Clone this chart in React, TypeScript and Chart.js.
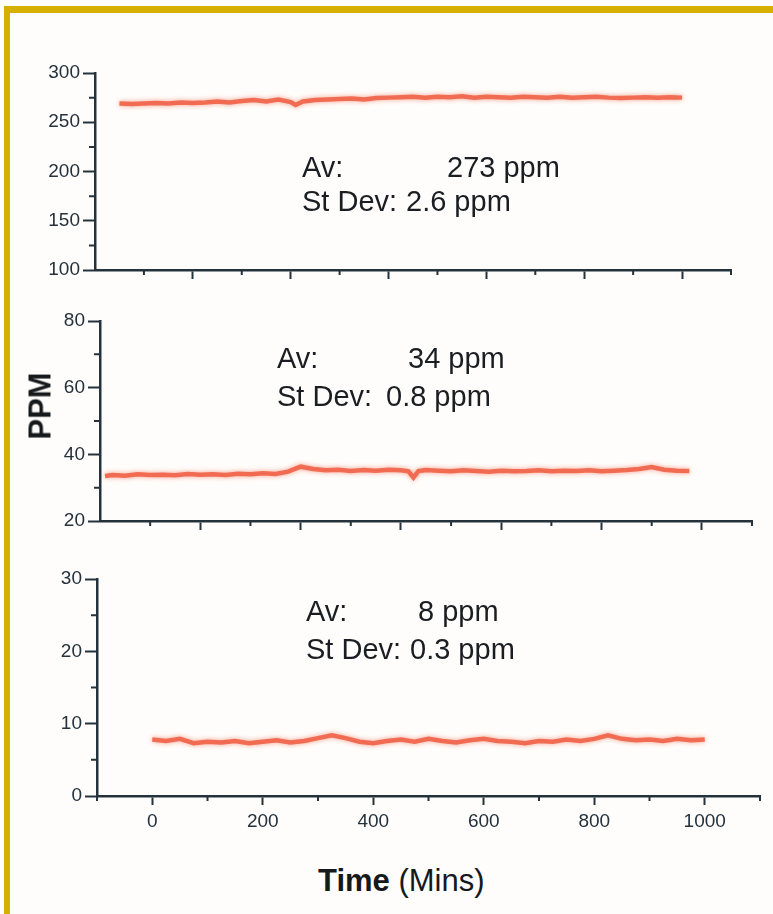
import React, { useEffect, useRef } from "react";
import { Chart, registerables } from "chart.js";

Chart.register(...registerables);

// ---------- data ----------
const TOP_TIME = [-150, -125, -100, -75, -50, -25, 0, 25, 50, 75, 100, 125, 150, 175, 200, 210, 225, 250, 275, 300, 325, 350, 375, 400, 425, 450, 475, 500, 525, 550, 575, 600, 625, 650, 675, 700, 725, 750, 775, 800, 825, 850, 875, 900, 925, 950, 975, 1000];
const TOP_PPM = [269, 268.5, 269, 269.5, 269, 270, 269.5, 270, 271, 270, 271.5, 272.5, 271, 273, 270.5, 267.5, 271, 272.5, 273, 273.5, 274, 273, 274.5, 275, 275.5, 276, 275, 276, 275.5, 276.5, 275, 276, 275.5, 275, 276, 275.5, 275, 276, 275, 275.5, 276, 275, 274.5, 275, 275.5, 275, 275.5, 275];

const MID_TIME = [-190, -175, -150, -125, -100, -75, -50, -25, 0, 25, 50, 75, 100, 125, 150, 175, 200, 225, 250, 275, 300, 325, 350, 375, 400, 415, 425, 435, 450, 475, 500, 525, 550, 575, 600, 625, 650, 675, 700, 725, 750, 775, 800, 825, 850, 875, 900, 925, 950, 975];
const MID_PPM = [33.5, 33.8, 33.6, 34.0, 33.8, 33.9, 33.7, 34.1, 33.9, 34.0, 33.8, 34.2, 34.0, 34.3, 34.1, 34.8, 36.3, 35.6, 35.2, 35.4, 35.0, 35.3, 35.1, 35.4, 35.2, 34.9, 33.0, 35.0, 35.3, 35.1, 34.9, 35.2, 35.0, 34.8, 35.1, 34.9, 35.0, 35.2, 34.9, 35.1, 35.0, 35.2, 34.9, 35.1, 35.3, 35.6, 36.2, 35.4, 35.1, 35.0];

const BOT_TIME = [0, 25, 50, 75, 100, 125, 150, 175, 200, 225, 250, 275, 300, 325, 350, 375, 400, 425, 450, 475, 500, 525, 550, 575, 600, 625, 650, 675, 700, 725, 750, 775, 800, 825, 850, 875, 900, 925, 950, 975, 1000];
const BOT_PPM = [7.8, 7.6, 7.9, 7.3, 7.5, 7.4, 7.6, 7.3, 7.5, 7.7, 7.4, 7.6, 8.0, 8.4, 8.0, 7.5, 7.3, 7.6, 7.8, 7.5, 7.9, 7.6, 7.4, 7.7, 7.9, 7.6, 7.5, 7.3, 7.6, 7.5, 7.8, 7.6, 7.9, 8.4, 7.9, 7.7, 7.8, 7.6, 7.9, 7.7, 7.8];

const TOP_Y_MAJOR = [100, 150, 200, 250, 300];
const TOP_Y_MINOR = [125, 175, 225, 275];
const MID_Y_MAJOR = [20, 40, 60, 80];
const MID_Y_MINOR = [30, 50, 70];
const BOT_Y_MAJOR = [0, 10, 20, 30];
const BOT_Y_MINOR = [5, 15, 25];
const X_MAJOR = [0, 200, 400, 600, 800, 1000];
const X_MINOR = [-100, 100, 300, 500, 700, 900, 1100];

const STATS = [
  { av: "273 ppm", sd: "2.6 ppm" },
  { av: "34 ppm", sd: "0.8 ppm" },
  { av: "8 ppm", sd: "0.3 ppm" },
];

// ---------- styles ----------
const W = 773;
const AXIS = "#24323c";
const LINE = "rgba(240,100,74,0.92)";
const FONT = "Arial, 'Liberation Sans', Helvetica, sans-serif";
const BG = "#fffdfb";

type Panel = {
  time: number[];
  ppm: number[];
  yMin: number;
  yMax: number;
  yMajor: number[];
  yMinor: number[];
  xMin: number;
  xMax: number;
  xLabels: boolean;
  top: number;
  height: number;
  area: { left: number; top: number; right: number; bottom: number };
};

const PANELS: Panel[] = [
  {
    time: TOP_TIME, ppm: TOP_PPM, yMin: 100, yMax: 300, yMajor: TOP_Y_MAJOR, yMinor: TOP_Y_MINOR,
    xMin: -200, xMax: 1100, xLabels: false, top: 0, height: 300,
    area: { left: 95, top: 73, right: 731, bottom: 270 },
  },
  {
    time: MID_TIME, ppm: MID_PPM, yMin: 20, yMax: 80, yMajor: MID_Y_MAJOR, yMinor: MID_Y_MINOR,
    xMin: -200, xMax: 1100, xLabels: false, top: 300, height: 250,
    area: { left: 100, top: 21, right: 752, bottom: 221 },
  },
  {
    time: BOT_TIME, ppm: BOT_PPM, yMin: 0, yMax: 30, yMajor: BOT_Y_MAJOR, yMinor: BOT_Y_MINOR,
    xMin: -100, xMax: 1100, xLabels: true, top: 550, height: 300,
    area: { left: 97, top: 29, right: 760, bottom: 246 },
  },
];

const minorTicks = {
  id: "minorTicks",
  afterDraw(chart: any, _a: any, opts: any) {
    const ctx = chart.ctx;
    const xs = chart.scales.x;
    const ys = chart.scales.y;
    ctx.save();
    ctx.strokeStyle = AXIS;
    ctx.lineWidth = 2;
    ctx.beginPath();
    for (const v of opts.x || []) {
      const px = xs.getPixelForValue(v);
      ctx.moveTo(px, xs.top);
      ctx.lineTo(px, xs.top + 5);
    }
    for (const v of opts.y || []) {
      const py = ys.getPixelForValue(v);
      ctx.moveTo(ys.right, py);
      ctx.lineTo(ys.right - 6, py);
    }
    ctx.stroke();
    ctx.restore();
  },
};

const glow = {
  id: "glow",
  beforeDatasetDraw(chart: any) {
    const ctx = chart.ctx;
    ctx.save();
    ctx.shadowColor = "rgba(240,110,80,0.7)";
    ctx.shadowBlur = 5;
  },
  afterDatasetDraw(chart: any) {
    chart.ctx.restore();
  },
};

function PanelChart({ p }: { p: Panel }) {
  const ref = useRef<HTMLCanvasElement>(null);
  useEffect(() => {
    if (!ref.current) return;
    const chart = new Chart(ref.current, {
      type: "line",
      data: {
        datasets: [
          {
            data: p.time.map((t, i) => ({ x: t, y: p.ppm[i] })),
            borderColor: LINE,
            borderWidth: 4.5,
            pointRadius: 0,
            tension: 0,
            fill: false,
          },
        ],
      },
      options: {
        animation: false,
        responsive: false,
        devicePixelRatio: 1,
        layout: { padding: { top: p.area.top, right: W - p.area.right, left: 0, bottom: 0 } },
        plugins: {
          legend: { display: false },
          tooltip: { enabled: false },
          title: { display: false },
          minorTicks: { x: X_MINOR, y: p.yMinor },
        } as any,
        scales: {
          x: {
            type: "linear",
            min: p.xMin,
            max: p.xMax,
            afterBuildTicks: (s: any) => {
              s.ticks = X_MAJOR.map((v) => ({ value: v }));
            },
            afterFit: (s: any) => {
              s.height = p.height - p.area.bottom;
            },
            border: { display: true, color: AXIS, width: 2.5 },
            grid: { display: true, drawOnChartArea: false, drawTicks: true, tickLength: 9, tickWidth: 2, tickColor: AXIS },
            ticks: {
              display: p.xLabels,
              color: AXIS,
              font: { family: FONT, size: 19 },
              padding: 5,
              maxRotation: 0,
              autoSkip: false,
              callback: (v: any) => String(v),
            },
          },
          y: {
            type: "linear",
            min: p.yMin,
            max: p.yMax,
            afterBuildTicks: (s: any) => {
              s.ticks = p.yMajor.map((v) => ({ value: v }));
            },
            afterFit: (s: any) => {
              s.width = p.area.left;
            },
            border: { display: true, color: AXIS, width: 2.5 },
            grid: { display: true, drawOnChartArea: false, drawTicks: true, tickLength: 12, tickWidth: 2, tickColor: AXIS },
            ticks: {
              color: AXIS,
              font: { family: FONT, size: 19 },
              padding: 3,
              autoSkip: false,
              callback: (v: any) => String(v),
            },
          },
        },
      },
      plugins: [minorTicks, glow],
    });
    return () => chart.destroy();
  }, [p]);
  return (
    <canvas
      ref={ref}
      width={W}
      height={p.height}
      style={{ position: "absolute", left: 0, top: p.top, width: W, height: p.height }}
    />
  );
}

const TEXT_SIZE = 29;
const ANNOT = [
  { avX: 302, avValX: 447, sdX: 302, sdValX: 406, avCap: 157, sdCap: 191 },
  { avX: 277, avValX: 408, sdX: 277, sdValX: 386, avCap: 348, sdCap: 386 },
  { avX: 306, avValX: 418, sdX: 306, sdValX: 410, avCap: 601, sdCap: 639 },
];

function Txt({ x, cap, children }: { x: number; cap: number; children: React.ReactNode }) {
  return (
    <div
      style={{
        position: "absolute",
        left: x,
        top: cap - TEXT_SIZE * 0.13,
        fontFamily: FONT,
        fontSize: TEXT_SIZE,
        lineHeight: 1,
        color: "#1a1e22",
        whiteSpace: "nowrap",
      }}
    >
      {children}
    </div>
  );
}

export default function App() {
  return (
    <div style={{ position: "absolute", left: 0, top: 0, width: W, height: 914, background: "#ffffff", overflow: "hidden" }}>
      <div style={{ position: "absolute", left: 4, top: 6, width: W - 4, height: 914 - 6, background: "#d6b000" }} />
      <div style={{ position: "absolute", left: 10, top: 13, width: W - 10, height: 914 - 13, background: BG }} />
      {PANELS.map((p, i) => (
        <PanelChart key={i} p={p} />
      ))}
      {ANNOT.map((a, i) => (
        <React.Fragment key={i}>
          <Txt x={a.avX} cap={a.avCap}>Av:</Txt>
          <Txt x={a.avValX} cap={a.avCap}>{STATS[i].av}</Txt>
          <Txt x={a.sdX} cap={a.sdCap}>St Dev:</Txt>
          <Txt x={a.sdValX} cap={a.sdCap}>{STATS[i].sd}</Txt>
        </React.Fragment>
      ))}
      <div
        style={{
          position: "absolute",
          left: 40,
          top: 406,
          transform: "translate(-50%, -50%) rotate(-90deg)",
          fontFamily: FONT,
          fontWeight: "bold",
          fontSize: 31,
          lineHeight: 1,
          color: "#15191c",
          whiteSpace: "nowrap",
        }}
      >
        PPM
      </div>
      <div
        style={{
          position: "absolute",
          left: 318,
          top: 865,
          fontFamily: FONT,
          fontSize: 31,
          lineHeight: 1,
          color: "#15191c",
          whiteSpace: "nowrap",
        }}
      >
        <span style={{ fontWeight: "bold" }}>Time</span> (Mins)
      </div>
    </div>
  );
}
